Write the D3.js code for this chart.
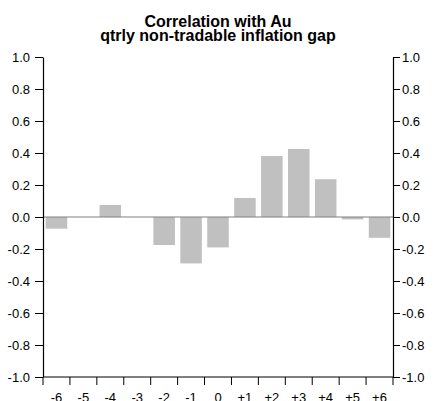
<!DOCTYPE html>
<html><head><meta charset="utf-8">
<script src="https://cdn.jsdelivr.net/npm/d3@7"></script>
<style>body{margin:0;background:#fff}svg{display:block}</style>
</head><body><svg id="c" width="434" height="401"></svg>
<script>
const categories = ["-6","-5","-4","-3","-2","-1","0","+1","+2","+3","+4","+5","+6"];
const values = [-0.073, 0.0, 0.075, 0.0, -0.175, -0.29, -0.19, 0.119, 0.381, 0.425, 0.236, -0.015, -0.13];
const yTicks = [1.0,0.8,0.6,0.4,0.2,0.0,-0.2,-0.4,-0.6,-0.8,-1.0];
const titleLines = ["Correlation with Au","qtrly non-tradable inflation gap"];

const svg = d3.select("#c");
const L = 43, R = 393, T = 57, B = 377;
const x = d3.scaleBand().domain(categories).range([L, R]).paddingInner(0.2).paddingOuter(0.1);
const y = d3.scaleLinear().domain([-1, 1]).range([B, T]);
const font = "Arial, 'Liberation Sans', sans-serif";
const fmt = d => d3.format(".1f")(d).replace("\u2212", "-");

svg.append("g").selectAll("text").data(titleLines).join("text")
  .attr("x", (L + R) / 2).attr("y", (d, i) => 26.5 + i * 14)
  .attr("text-anchor", "middle").attr("font-family", font)
  .attr("font-weight", "bold").attr("font-size", 16)
  .attr("fill", "#000").text(d => d);

// bars
svg.append("g").selectAll("rect").data(values).join("rect")
  .attr("x", (d, i) => x(categories[i]))
  .attr("width", x.bandwidth())
  .attr("y", d => y(Math.max(0, d)))
  .attr("height", d => Math.abs(y(d) - y(0)))
  .attr("fill", "#c0c0c0");

// zero line
svg.append("line").attr("x1", L).attr("x2", R).attr("y1", y(0)).attr("y2", y(0))
  .attr("stroke", "#808080").attr("stroke-width", 1.2);

function styleAxis(g) {
  g.selectAll("path,line").attr("stroke", "#000");
  g.selectAll("text").attr("font-family", font).attr("font-size", 13).attr("fill", "#000");
  g.select(".domain").attr("stroke-width", 1.2);
}

const leftAxis = d3.axisLeft(y).tickValues(yTicks).tickFormat(fmt).tickSize(8).tickSizeOuter(0).tickPadding(5);
svg.append("g").attr("transform", `translate(${L},0)`).call(leftAxis).call(styleAxis);

const rightAxis = d3.axisRight(y).tickValues(yTicks).tickFormat(fmt).tickSize(7).tickSizeOuter(0).tickPadding(2);
svg.append("g").attr("transform", `translate(${R},0)`).call(rightAxis).call(styleAxis);

// bottom axis: ticks at band boundaries
const xAxisG = svg.append("g").attr("transform", `translate(0,${B})`);
xAxisG.append("line").attr("x1", L).attr("x2", R).attr("stroke", "#000").attr("stroke-width", 1.2);
const bounds = d3.range(categories.length + 1).map(i => L + i * (R - L) / categories.length);
xAxisG.selectAll("line.t").data(bounds).join("line").attr("class", "t")
  .attr("x1", d => d).attr("x2", d => d).attr("y1", 0).attr("y2", 8).attr("stroke", "#000");
xAxisG.selectAll("text").data(categories).join("text")
  .attr("x", d => x(d) + x.bandwidth() / 2).attr("y", 24.5)
  .attr("text-anchor", "middle").attr("font-family", font).attr("font-size", 13).attr("fill", "#000")
  .text(d => d);
</script></body></html>
